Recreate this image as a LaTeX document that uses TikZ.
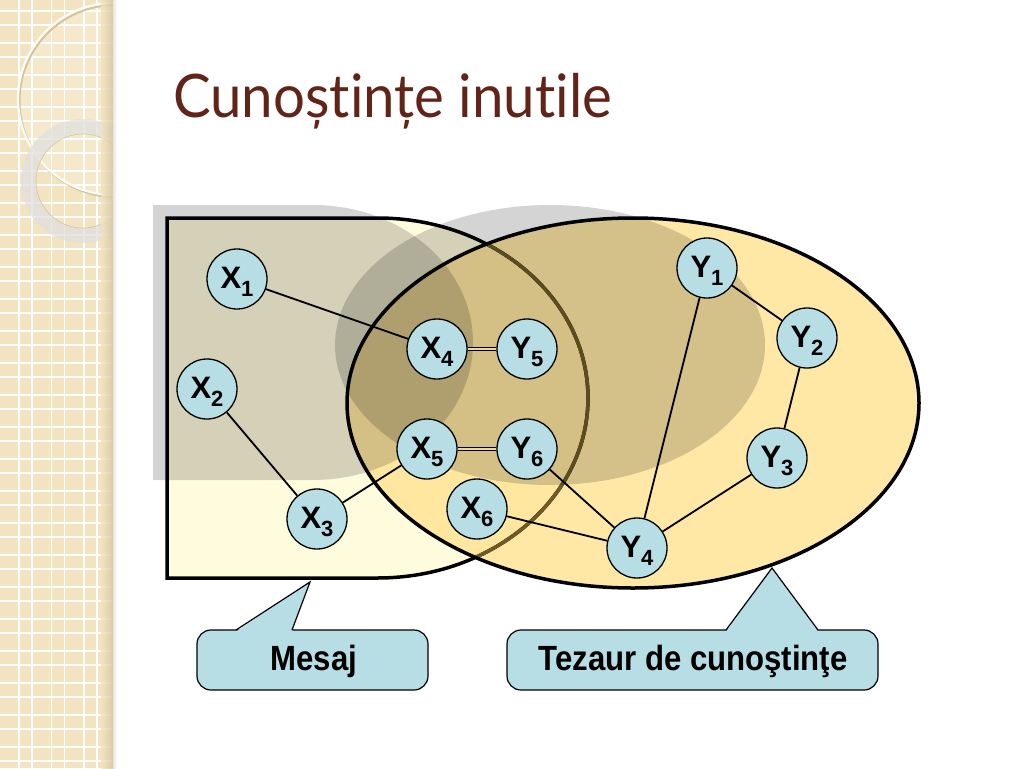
\documentclass[tikz,border=0pt]{standalone}
\usepackage{fontspec}
\setmainfont{Liberation Sans}
\newfontfamily\titlefont[Ligatures=NoCommon]{Lato}
\definecolor{strip}{RGB}{243,227,192}
\definecolor{stripdark}{RGB}{212,196,158}
\definecolor{msgfill}{RGB}{255,252,222}
\definecolor{tzfill}{RGB}{255,228,150}
\definecolor{olivebrd}{RGB}{112,92,35}
\definecolor{nodefill}{RGB}{183,222,228}
\definecolor{titlecol}{RGB}{98,36,24}
\definecolor{dblgap}{RGB}{232,216,160}
\newcommand\sbx[1]{\raisebox{-8pt}{\fontsize{22pt}{22pt}\selectfont #1}}
\newcommand\cond[1]{\scalebox{0.89}[1]{#1}}
\tikzset{
  vx/.style={circle, draw, line width=1.3pt, fill=nodefill, minimum size=60pt, inner sep=0pt,
    text height=19pt, text depth=0pt, font=\bfseries\fontsize{31pt}{31pt}\selectfont},
  edge/.style={line width=1.8pt},
  dbl/.style={line width=1.2pt, double=dblgap, double distance=2.5pt},
  callbox/.style={draw, line width=1.2pt, fill=nodefill, rounded corners=14pt},
  calltext/.style={inner sep=0pt, text height=20pt, text depth=0pt, font=\bfseries\fontsize{35pt}{35pt}\selectfont},
  shade50/.style={fill=black, fill opacity=0.17}
}
\begin{document}
\begin{tikzpicture}[x=1pt,y=-1pt]
\fill[white] (0,0) rectangle (1024,768);
\useasboundingbox (0,0) rectangle (1024,768);
% left decorative strip
\begin{scope}
\clip (0,0) rectangle (113,768);
\fill[strip] (0,0) rectangle (113,768);
\foreach \k in {0,...,3} {
  \draw[white, line width=1.3pt] ({19+32.5*\k},0) -- ++(0,768);
  \draw[white, line width=1.3pt] ({32+32.5*\k},0) -- ++(0,768);
}
\foreach \k in {0,...,23} {
  \draw[white, line width=1.3pt] (0,{11+32*\k}) -- ++(113,0);
  \draw[white, line width=1.3pt] (0,{25+32*\k}) -- ++(113,0);
}
\fill[white, fill opacity=0.18] (114,99) circle[radius=96];
\draw[stripdark, line width=2pt] (115.5,101) circle[radius=96];
\draw[white!85!strip, line width=2.2pt] (114,99) circle[radius=96];
\fill[black!12, fill opacity=0.75, even odd rule] (83,181) circle[radius=62] (83,181) circle[radius=47];
\draw[stripdark, line width=0.6pt] (83,181) circle[radius=47];
\shade[left color=strip, right color=stripdark, opacity=0.8] (101,0) rectangle (113,768);
\end{scope}
\shade[left color=black!10, right color=white] (113,0) rectangle (117,768);
% title
\node[anchor=base west, inner sep=0pt, text=titlecol, font=\titlefont\fontsize{60pt}{60pt}\selectfont] (title) at (173,117) {\scalebox{0.94}[1]{Cunoștințe inutile}};
% message shape fill
\fill[msgfill] (167,218) -- (377.5,218) arc[start angle=-90,end angle=90,x radius=210.5,y radius=180] -- (167,578) -- cycle;
% thesaurus fill
\fill[tzfill, fill opacity=0.85] (633,403) ellipse[x radius=286,y radius=185];
% message border
\draw[line width=3.5pt] (167,218) -- (377.5,218) arc[start angle=-90,end angle=90,x radius=210.5,y radius=180] -- (167,578) -- cycle;
\begin{scope}
\clip (633,403) ellipse[x radius=286,y radius=185];
\draw[olivebrd, line width=3.5pt] (167,218) -- (377.5,218) arc[start angle=-90,end angle=90,x radius=210.5,y radius=180] -- (167,578) -- cycle;
\end{scope}
% grey shadows
\fill[shade50] (153,205) -- (313,205) arc[start angle=-90,end angle=90,x radius=160,y radius=137.5] -- (153,480) -- cycle;
\fill[shade50] (550,345) ellipse[x radius=215,y radius=140];
% thesaurus border
\draw[line width=3.5pt] (633,403) ellipse[x radius=286,y radius=185];
% callouts
\draw[callbox] (197,630) rectangle (428,690);
\fill[nodefill] (236,631.5) -- (310,582) -- (292,631.5) -- cycle;
\draw[line width=1.2pt] (236,630) -- (310,582) -- (292,630);
\node[calltext] (mesaj) at (314,660) {\cond{Mesaj}};
\draw[callbox] (507,630) rectangle (878,690);
\fill[nodefill] (726,631.5) -- (772,568) -- (818,631.5) -- cycle;
\draw[line width=1.2pt] (726,630) -- (772,568) -- (818,630);
\node[calltext] (tezaur) at (693,660) {\cond{Tezaur de cunoştinţe}};
% nodes
\node[vx] (x1) at (237,279) {X\sbx{1}};
\node[vx] (x2) at (207,389) {X\sbx{2}};
\node[vx] (x3) at (317,519) {X\sbx{3}};
\node[vx] (x4) at (437,349) {X\sbx{4}};
\node[vx] (y5) at (527,349) {Y\sbx{5}};
\node[vx] (x5) at (427,449) {X\sbx{5}};
\node[vx] (y6) at (527,449) {Y\sbx{6}};
\node[vx] (x6) at (477,509) {X\sbx{6}};
\node[vx] (y1) at (707,268) {Y\sbx{1}};
\node[vx] (y2) at (807,338) {Y\sbx{2}};
\node[vx] (y3) at (777,458) {Y\sbx{3}};
\node[vx] (y4) at (637,548) {Y\sbx{4}};
% connectors
\draw[edge] (x1) -- (x4);
\draw[edge] (x2) -- (x3);
\draw[edge] (x3) -- (x5);
\draw[dbl] (x4) -- (y5);
\draw[dbl] (x5) -- (y6);
\draw[edge] (y6) -- (y4);
\draw[edge] (x6) -- (y4);
\draw[edge] (y1) -- (y4);
\draw[edge] (y1) -- (y2);
\draw[edge] (y2) -- (y3);
\draw[edge] (y3) -- (y4);
\end{tikzpicture}
\end{document}
